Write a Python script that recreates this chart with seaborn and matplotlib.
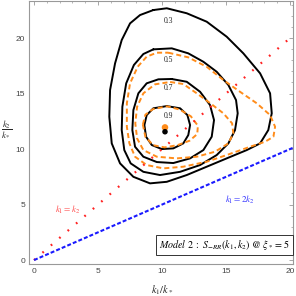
import matplotlib
matplotlib.use("Agg")
import numpy as np
import pandas as pd
import matplotlib.pyplot as plt
import seaborn as sns

# ---------------- data ----------------
levels = ["0.3", "0.5", "0.7", "0.9"]

# solid black contours (k1/k*, k2/k*)
c03_x = [9.32, 10.37, 11.93, 13.49, 15.05, 16.35, 17.66, 18.44, 18.57, 18.30, 17.66, 16.62,
         15.05, 13.49, 11.93, 10.37, 9.06, 7.76, 6.72, 6.07, 5.88, 5.94, 6.33, 6.85, 7.50, 8.28]
c03_y = [22.52, 22.68, 22.23, 21.47, 20.12, 18.62, 16.82, 15.02, 13.22, 11.71, 10.51, 9.91,
         9.16, 8.41, 7.66, 7.05, 6.91, 7.50, 8.71, 10.51, 12.91, 15.32, 17.72, 19.82, 21.32, 22.07]

c05_x = [9.32, 10.76, 12.05, 13.23, 14.27, 15.18, 15.78, 15.91, 15.70, 15.18, 14.27, 12.97,
         11.41, 9.84, 8.54, 7.55, 7.05, 6.85, 6.90, 7.20, 7.80, 8.54]
c05_y = [18.98, 19.07, 18.62, 17.86, 16.96, 15.77, 14.41, 13.22, 11.71, 10.51, 9.46, 8.56,
         7.95, 7.66, 7.95, 8.71, 9.91, 11.71, 13.81, 15.92, 17.57, 18.56]

c07_x = [10.76, 11.93, 12.97, 13.75, 14.06, 13.88, 13.23, 12.19, 10.88, 9.59, 8.54, 7.89,
         7.68, 7.76, 8.15, 8.80, 9.71]
c07_y = [16.31, 16.06, 15.16, 13.96, 12.61, 11.11, 9.91, 9.16, 8.74, 8.83, 9.31, 10.21,
         11.71, 13.51, 15.02, 15.92, 16.28]

c09_x = [10.37, 11.41, 11.98, 12.19, 12.05, 11.66, 10.88, 9.98, 9.20, 8.75, 8.62, 8.80, 9.32]
c09_y = [13.87, 13.67, 13.06, 12.16, 11.26, 10.51, 10.06, 10.00, 10.36, 11.11, 12.16, 13.06, 13.67]

# dashed orange contours
o05_x = [10.49, 12.05, 13.49, 14.79, 16.09, 17.40, 18.44, 18.83, 18.70, 18.05, 16.88, 15.05,
         13.49, 11.66, 10.10, 8.80, 7.89, 7.45, 7.25, 7.25, 7.50, 8.10, 8.80, 9.59]
o05_y = [18.68, 18.26, 17.41, 16.22, 15.16, 14.12, 13.06, 12.01, 11.11, 10.66, 10.21, 9.46,
         8.86, 8.41, 8.26, 8.56, 9.31, 10.51, 12.01, 14.12, 15.92, 17.42, 18.32, 18.68]

o07_x = [10.63, 11.66, 12.71, 13.75, 14.79, 15.47, 15.57, 15.18, 14.14, 12.71, 11.15, 9.59,
         8.54, 8.05, 7.91, 8.05, 8.54, 9.45]
o07_y = [16.04, 15.86, 15.02, 14.14, 13.22, 12.32, 11.41, 10.51, 9.76, 9.31, 9.16, 9.31,
         9.91, 10.96, 12.32, 13.81, 15.02, 15.83]

o09_x = [8.50, 8.70, 9.30, 10.40, 11.40, 12.25, 12.80, 12.75, 12.15, 11.20, 10.20, 9.30, 8.70]
o09_y = [12.20, 13.10, 13.60, 13.85, 13.55, 12.95, 12.10, 11.35, 10.75, 10.35, 10.15, 10.35, 11.10]

label_x = [10.49, 10.49, 10.49, 10.49]
label_y = [21.56, 18.02, 15.47, 13.00]

peak_black = (10.23, 11.56)
peak_orange = (10.23, 11.95)

diag_k1 = [0.0, 20.0]           # k1 = k2
half_k1 = [0.0, 20.3]           # k1 = 2 k2

xticks = [0, 5, 10, 15, 20]
yticks = [0, 5, 10, 15, 20]

# ---------------- figure ----------------
sns.set_theme(style="white")
plt.rcParams["font.family"] = ["Liberation Sans", "DejaVu Sans"]
plt.rcParams["mathtext.fontset"] = "stix"

fig = plt.figure(figsize=(2.96, 2.96), dpi=100)
ax = fig.add_axes([29.3 / 296, 1 - 264.3 / 296, (293 - 29.3) / 296, (264.3 - 0.5) / 296])

def closed(xs, ys):
    return pd.DataFrame({"k1": list(xs) + [xs[0]], "k2": list(ys) + [ys[0]]})

for xs, ys in [(c03_x, c03_y), (c05_x, c05_y), (c07_x, c07_y), (c09_x, c09_y)]:
    sns.lineplot(data=closed(xs, ys), x="k1", y="k2", sort=False, estimator=None,
                 color="black", lw=1.4, solid_joinstyle="round", ax=ax)

for xs, ys in [(o05_x, o05_y), (o07_x, o07_y), (o09_x, o09_y)]:
    sns.lineplot(data=closed(xs, ys), x="k1", y="k2", sort=False, estimator=None,
                 color="#ff8c1a", lw=1.4, linestyle=(0, (2.6, 1.6)), ax=ax)

# reference lines
sns.lineplot(x=diag_k1, y=diag_k1, color="#ff2020", lw=1.6,
             linestyle=(0, (0.8, 4.2)), ax=ax)
sns.lineplot(x=half_k1, y=[v / 2 for v in half_k1], color="#1a1aff", lw=1.5,
             linestyle=(0, (1.9, 1.0)), ax=ax)

# peaks
sns.scatterplot(x=[peak_orange[0]], y=[peak_orange[1]], color="#ff8c1a", s=22,
                edgecolor="none", ax=ax, zorder=5)
sns.scatterplot(x=[peak_black[0]], y=[peak_black[1]], color="black", s=16,
                edgecolor="none", ax=ax, zorder=6)

for lx, ly, lv in zip(label_x, label_y, levels):
    ax.text(lx, ly, lv, ha="center", va="center", fontsize=5.5, color="#222222",
            family="Liberation Serif")

ax.text(2.6, 4.5, r"$k_1 = k_2$", color="#ff4d4d", fontsize=6.5, ha="center", va="center")
ax.text(16.1, 5.46, r"$k_1 = 2k_2$", color="#3333ff", fontsize=6.5, ha="center", va="center")

ax.text(14.88, 1.35, r"$Model\ 2\ :\ S_{-RR}(k_1,k_2)\ @\ \xi_* = 5$", ha="center",
        va="center", fontsize=7.2, color="black",
        bbox=dict(boxstyle="square,pad=0.3", fc="white", ec="#333333", lw=0.7))

ax.set_xlim(-0.37, 20.23)
ax.set_ylim(-0.38, 23.38)
ax.set_xticks(xticks)
ax.set_yticks(yticks)
ax.set_xticks(range(0, 21), minor=True)
ax.set_yticks(range(0, 24), minor=True)
ax.set_xticklabels([str(t) for t in xticks])
ax.set_yticklabels([str(t) for t in yticks])
ax.tick_params(which="both", direction="in", top=True, right=True, colors="#999999",
               labelcolor="#444444", labelsize=6)
ax.tick_params(which="major", length=3.0, width=0.6, pad=3)
ax.tick_params(which="minor", length=1.6, width=0.5)
for s in ax.spines.values():
    s.set_color("#999999")
    s.set_linewidth(0.8)
ax.set_xlabel("")
ax.set_ylabel("")

fig.text(162 / 296, 1 - 290 / 296, r"$k_1/k_*$", ha="center", va="center", fontsize=7.5)
fig.text(6.5 / 296, 1 - 129 / 296, r"$\dfrac{k_2}{k_*}$", ha="center", va="center", fontsize=6.5)

fig.savefig("out.png", dpi=100)
